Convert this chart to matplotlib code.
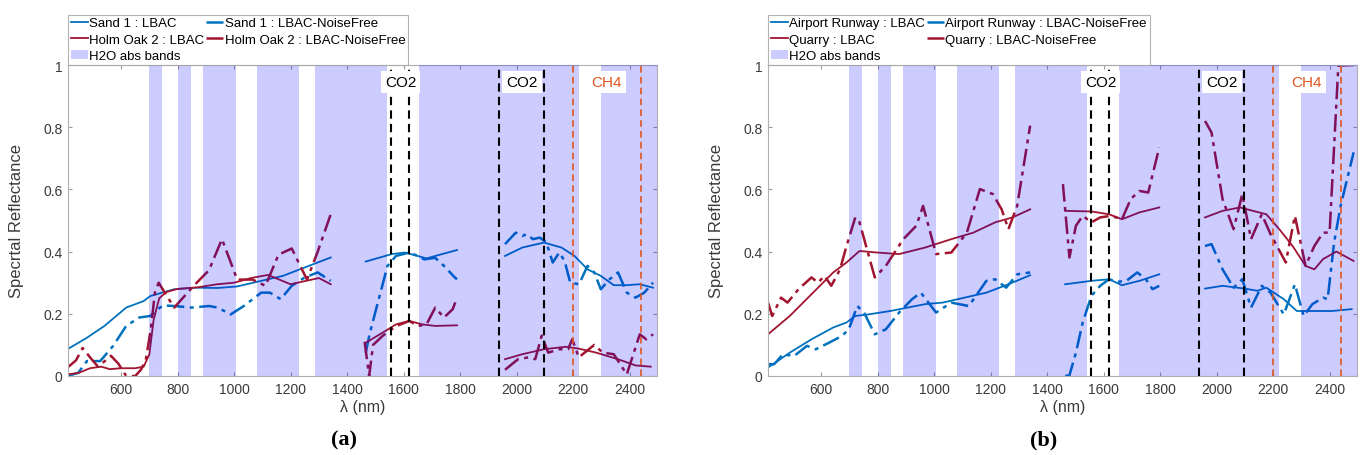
import matplotlib
matplotlib.use('Agg')
import matplotlib.pyplot as plt
import numpy as np

plt.rcParams['font.family'] = ['Liberation Sans', 'DejaVu Sans']

nan = np.nan

# H2O absorption bands (nm) and gas lines
h2o_bands = [(697, 744), (800, 846), (891, 1008), (1082, 1230), (1285, 1542), (1655, 2222), (2299, 2500)]
co2_lines = [1557, 1618, 1938, 2097]
ch4_lines = [2198, 2440]

# ---- panel (a): Sand 1 / Holm Oak 2
sand_lbac_wl = [410, 479, 541, 618, 680, 703, 788, 865, 942, 1011, 1096, 1173, 1250, 1342, nan,
                1466, 1558, 1604, 1650, 1681, 1712, 1789, nan,
                1959, 2020, 2097, 2159, 2205, 2251, 2298, 2344, 2390, 2436, 2483]
sand_lbac_r = [0.086, 0.123, 0.161, 0.22, 0.241, 0.257, 0.279, 0.284, 0.283, 0.288, 0.306, 0.322, 0.349, 0.381, nan,
               0.368, 0.392, 0.397, 0.386, 0.378, 0.386, 0.405, nan,
               0.386, 0.413, 0.429, 0.413, 0.386, 0.343, 0.322, 0.292, 0.292, 0.295, 0.284]

sand_nf_wl = [410, 448, 479, 526, 572, 618, 664, 703, 730, 749, 788, 850, 911, 942, 988, 1034, 1096, 1127, 1165,
              1204, 1250, 1296, 1342, nan,
              1466, 1481, 1512, 1543, 1573, 1620, 1650, 1673, 1712, 1743, 1781, 1789, nan,
              1959, 1997, 2020, 2035, 2058, 2082, 2105, 2128, 2151, 2170, 2190, 2221, 2251, 2275, 2298, 2329,
              2359, 2390, 2421, 2452, 2483]
sand_nf_r = [0.0, 0.01, 0.048, 0.048, 0.097, 0.161, 0.188, 0.193, 0.215, 0.227, 0.225, 0.22, 0.225, 0.22, 0.198,
             0.225, 0.268, 0.268, 0.247, 0.29, 0.317, 0.333, 0.306, nan,
             0.075, 0.14, 0.247, 0.354, 0.386, 0.397, 0.386, 0.375, 0.38, 0.354, 0.317, 0.311, nan,
             0.424, 0.461, 0.45, 0.456, 0.44, 0.445, 0.43, 0.365, 0.397, 0.37, 0.30, 0.295, 0.354, 0.333, 0.279,
             0.311, 0.333, 0.268, 0.252, 0.268, 0.30]

holm_lbac_wl = [410, 450, 490, 530, 560, 600, 650, 680, 700, 715, 735, 760, 800, 870, 940, 1000, 1060, 1120, 1160,
                1200, 1250, 1300, 1342, nan,
                1466, 1527, 1573, 1620, 1666, 1712, 1789, nan,
                1959, 2020, 2097, 2174, 2220, 2282, 2359, 2421, 2475]
holm_lbac_r = [0.005, 0.01, 0.025, 0.03, 0.022, 0.025, 0.025, 0.03, 0.07, 0.18, 0.25, 0.27, 0.28, 0.285, 0.295,
               0.30, 0.315, 0.325, 0.31, 0.295, 0.305, 0.315, 0.295, nan,
               0.107, 0.14, 0.166, 0.177, 0.166, 0.161, 0.163, nan,
               0.054, 0.07, 0.086, 0.094, 0.088, 0.075, 0.054, 0.034, 0.03]

holm_nf_wl = [410, 440, 464, 490, 518, 545, 564, 590, 618, 650, 670, 687, 705, 720, 733, 760, 788, 857, 911, 957,
              1011, 1065, 1111, 1157, 1204, 1258, 1296, 1342, nan,
              1462, 1478, 1492, 1527, 1573, 1620, 1650, 1681, 1712, 1743, 1774, 1789, nan,
              1959, 2005, 2043, 2066, 2089, 2112, 2151, 2182, 2197, 2220, 2275, 2305, 2344, 2390, 2436, 2459, 2483]
holm_nf_r = [0.027, 0.05, 0.09, 0.06, 0.03, 0.05, 0.065, 0.04, 0.0, 0.0, 0.02, 0.05, 0.15, 0.27, 0.30, 0.26, 0.22,
             0.29, 0.34, 0.44, 0.31, 0.31, 0.29, 0.39, 0.41, 0.31, 0.40, 0.52, nan,
             0.11, 0.0, 0.1, 0.13, 0.16, 0.177, 0.161, 0.166, 0.22, 0.188, 0.215, 0.252, nan,
             0.02, 0.054, 0.06, 0.054, 0.13, 0.075, 0.086, 0.086, 0.118, 0.06, 0.10, 0.075, 0.07, 0.005, 0.134,
             0.118, 0.134]

# ---- panel (b): Airport Runway / Quarry
runway_lbac_wl = [412, 489, 566, 643, 690, 721, 767, 845, 906, 968, 1030, 1108, 1185, 1263, 1340, nan,
                  1464, 1557, 1619, 1665, 1727, 1797, nan,
                  1959, 2021, 2099, 2145, 2176, 2238, 2284, 2346, 2408, 2478]
runway_lbac_r = [0.027, 0.075, 0.118, 0.156, 0.172, 0.193, 0.198, 0.209, 0.22, 0.231, 0.236, 0.252, 0.268, 0.295,
                 0.324, nan,
                 0.295, 0.306, 0.311, 0.292, 0.306, 0.327, nan,
                 0.281, 0.29, 0.281, 0.274, 0.284, 0.247, 0.209, 0.209, 0.209, 0.215]

runway_nf_wl = [412, 434, 465, 504, 550, 581, 628, 674, 698, 728, 752, 790, 829, 876, 922, 953, 1007, 1061, 1123,
                1185, 1216, 1255, 1294, 1340, nan,
                1464, 1479, 1502, 1526, 1557, 1588, 1619, 1650, 1681, 1719, 1750, 1773, 1797, nan,
                1959, 1982, 2021, 2060, 2091, 2122, 2160, 2191, 2238, 2277, 2308, 2339, 2377, 2393, 2416, 2439, 2485]
runway_nf_r = [0.038, 0.038, 0.07, 0.064, 0.097, 0.086, 0.107, 0.129, 0.15, 0.225, 0.204, 0.134, 0.15, 0.204, 0.247,
               0.268, 0.204, 0.236, 0.225, 0.306, 0.311, 0.284, 0.327, 0.333, nan,
               0.0, 0.002, 0.075, 0.172, 0.258, 0.29, 0.311, 0.303, 0.306, 0.333, 0.311, 0.279, 0.29, nan,
               0.418, 0.424, 0.343, 0.284, 0.311, 0.22, 0.29, 0.268, 0.198, 0.295, 0.193, 0.231, 0.252, 0.247,
               0.429, 0.547, 0.719]

quarry_lbac_wl = [412, 489, 566, 643, 690, 736, 798, 876, 968, 1061, 1139, 1216, 1278, 1340, nan,
                  1464, 1557, 1619, 1665, 1727, 1797, nan,
                  1959, 2021, 2083, 2129, 2176, 2222, 2269, 2315, 2346, 2377, 2424, 2485]
quarry_lbac_r = [0.134, 0.193, 0.263, 0.333, 0.365, 0.402, 0.397, 0.392, 0.413, 0.44, 0.461, 0.494, 0.51, 0.536, nan,
                 0.531, 0.529, 0.52, 0.504, 0.526, 0.542, nan,
                 0.51, 0.531, 0.542, 0.531, 0.52, 0.472, 0.418, 0.354, 0.343, 0.376, 0.40, 0.37]

quarry_nf_wl = [412, 427, 458, 481, 520, 566, 589, 612, 636, 667, 690, 721, 736, 790, 829, 891, 937, 961, 1007, 1061,
                1116, 1162, 1208, 1239, 1263, 1294, 1340, nan,
                1456, 1479, 1502, 1526, 1557, 1588, 1626, 1665, 1696, 1727, 1758, 1797, nan,
                1959, 1982, 2021, 2060, 2091, 2122, 2160, 2191, 2245, 2277, 2315, 2346, 2377, 2400, 2431, 2485]
quarry_nf_r = [0.236, 0.193, 0.252, 0.236, 0.279, 0.317, 0.30, 0.322, 0.29, 0.343, 0.418, 0.51, 0.494, 0.317, 0.354,
               0.44, 0.483, 0.547, 0.392, 0.397, 0.461, 0.601, 0.585, 0.536, 0.472, 0.547, 0.805, nan,
               0.617, 0.381, 0.483, 0.515, 0.494, 0.51, 0.515, 0.504, 0.569, 0.595, 0.59, 0.735, nan,
               0.82, 0.783, 0.569, 0.472, 0.585, 0.44, 0.52, 0.456, 0.365, 0.515, 0.354, 0.418, 0.461, 0.461,
               0.998, 1.0]

panels = [
    ('(a)', 'Sand 1', 'Holm Oak 2', sand_lbac_wl, sand_lbac_r, sand_nf_wl, sand_nf_r,
     holm_lbac_wl, holm_lbac_r, holm_nf_wl, holm_nf_r),
    ('(b)', 'Airport Runway', 'Quarry', runway_lbac_wl, runway_lbac_r, runway_nf_wl, runway_nf_r,
     quarry_lbac_wl, quarry_lbac_r, quarry_nf_wl, quarry_nf_r),
]

BLUE = '#0072BD'
RED = '#A2142F'
ORANGE = '#E0561E'
DASHDOT = (0, (7, 2.2, 1.6, 2.2))

fig = plt.figure(figsize=(13.66, 4.56), dpi=100)
lefts = [68 / 1366, 768 / 1366]

for left, p in zip(lefts, panels):
    tag, name1, name2, b_wl, b_r, bn_wl, bn_r, r_wl, r_r, rn_wl, rn_r = p
    ax = fig.add_axes([left, 79 / 456, 589 / 1366, 311 / 456])

    l1, = ax.plot(b_wl, b_r, color=BLUE, lw=1.3, zorder=2)
    l2, = ax.plot(bn_wl, bn_r, color=BLUE, lw=1.8, ls=DASHDOT, zorder=2)
    l3, = ax.plot(r_wl, r_r, color=RED, lw=1.3, zorder=2)
    l4, = ax.plot(rn_wl, rn_r, color=RED, lw=1.8, ls=DASHDOT, zorder=2)

    for i, (a, b) in enumerate(h2o_bands):
        sp = ax.axvspan(a, b, color=(0, 0, 1), alpha=0.2, lw=0, zorder=3)
        if i == 0:
            band = sp

    for x in co2_lines:
        ax.axvline(x, color='black', ls=(0, (4, 2.5)), lw=1.5, zorder=4)
    for x in ch4_lines:
        ax.axvline(x, color=ORANGE, ls=(0, (4, 2.5)), lw=1.2, zorder=4)

    box = dict(facecolor='white', edgecolor='none', pad=3)
    ax.text(1589, 0.945, 'CO2', ha='center', va='center', fontsize=11, bbox=box, zorder=5)
    ax.text(2020, 0.945, 'CO2', ha='center', va='center', fontsize=11, bbox=box, zorder=5)
    ax.text(2320, 0.945, 'CH4', ha='center', va='center', fontsize=11, color=ORANGE, bbox=box, zorder=5)

    ax.set_xlim(412, 2497)
    ax.set_ylim(0, 1)
    ax.set_xticks(range(600, 2401, 200))
    ax.set_yticks([0, 0.2, 0.4, 0.6, 0.8, 1])
    ax.set_yticklabels(['0', '0.2', '0.4', '0.6', '0.8', '1'])
    ax.tick_params(direction='in', length=3, width=0.8, color='#9a9a9a', labelsize=10,
                   labelcolor='#3a3a3a', top=True, right=True, pad=4)
    for s in ax.spines.values():
        s.set_color('#b0b0b0')
        s.set_linewidth(0.8)

    ax.set_xlabel('λ (nm)', fontsize=11.5, color='#3a3a3a')
    ax.xaxis.set_label_coords(0.5, -0.075)
    ax.set_ylabel('Specrtal Reflectance', fontsize=12, color='#3a3a3a')
    ax.yaxis.set_label_coords(-0.074, 0.5)

    leg = ax.legend([l1, l3, band, l2, l4],
                    [f'{name1} : LBAC', f'{name2} : LBAC', 'H2O abs bands',
                     f'{name1} : LBAC-NoiseFree', f'{name2} : LBAC-NoiseFree'],
                    ncol=2, loc='lower left', bbox_to_anchor=(0, 1.0), borderaxespad=0,
                    fontsize=9.5, frameon=True, fancybox=False, handlelength=1.3,
                    handletextpad=0.1, columnspacing=0.15, labelspacing=0.32, borderpad=0.2)
    leg.get_frame().set_edgecolor('#a0a0a0')
    leg.get_frame().set_linewidth(0.8)

    cx = left + 589 / 1366 / 2 - 19 / 1366
    fig.text(cx, 1 - 440 / 456, tag, ha='center', va='center', fontsize=16,
             family='Liberation Serif', weight='bold')

fig.savefig('out.png', dpi=100)
